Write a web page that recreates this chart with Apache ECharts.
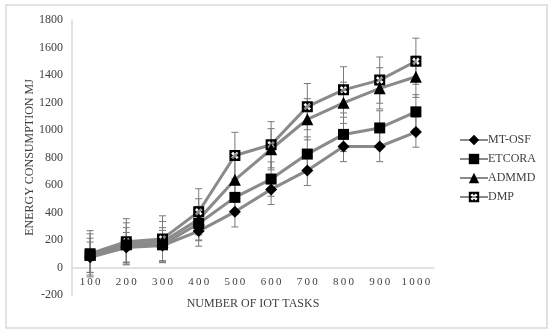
<!DOCTYPE html>
<html>
<head>
<meta charset="utf-8">
<script src="https://cdn.jsdelivr.net/npm/echarts@6/dist/echarts.min.js"></script>
<style>
  html, body { margin: 0; padding: 0; background: #fff; }
  #chart { width: 550px; height: 334px; }
</style>
</head>
<body>
<div id="chart"></div>
<script>
// categories and series values
const tasks = ['100', '200', '300', '400', '500', '600', '700', '800', '900', '1000'];
const mtOsf = [75, 145, 160, 265, 405, 568, 706, 880, 880, 985];
const etcora = [88, 165, 165, 320, 510, 643, 825, 968, 1015, 1132];
const admmd = [95, 175, 185, 350, 638, 860, 1078, 1198, 1303, 1387];
const dmp = [100, 187, 208, 405, 815, 893, 1170, 1292, 1363, 1500];
// error bar half-lengths (same for every point of a series)
const errMtOsf = 110;
const errEtcora = 125;
const errAdmmd = 150;
const errDmp = 168;

const serif = 'Liberation Serif';
const lineGray = '#8a8a8a';
const textCol = '#404040';

// black square with a white X cut out (outer clockwise, X counter-clockwise)
const boxX = 'path://M0,0L10,0L10,10L0,10Z' +
  'M3.3,5L1.6,6.7L3.3,8.4L5,6.7L6.7,8.4L8.4,6.7L6.7,5L8.4,3.3L6.7,1.6L5,3.3L3.3,1.6L1.6,3.3Z';

function lineSeries(name, data, symbol, size) {
  return {
    name: name,
    type: 'line',
    data: data,
    symbol: symbol,
    symbolSize: size,
    z: 3,
    lineStyle: { color: lineGray, width: 3 },
    itemStyle: { color: '#000', borderWidth: 0 }
  };
}

// error bars drawn through the axes' own scales
function errSeries(name, data, err) {
  return {
    name: name + '-err',
    type: 'custom',
    z: 2,
    silent: true,
    data: data.map((v, i) => [i, v]),
    renderItem: function (params, api) {
      const i = api.value(0);
      const v = api.value(1);
      const top = api.coord([i, v + err]);
      const bot = api.coord([i, v - err]);
      const h = 3.5;
      const st = { stroke: '#7a7a7a', lineWidth: 1 };
      return {
        type: 'group',
        children: [
          { type: 'line', shape: { x1: top[0], y1: top[1], x2: bot[0], y2: bot[1] }, style: st },
          { type: 'line', shape: { x1: top[0] - h, y1: top[1], x2: top[0] + h, y2: top[1] }, style: st },
          { type: 'line', shape: { x1: bot[0] - h, y1: bot[1], x2: bot[0] + h, y2: bot[1] }, style: st }
        ]
      };
    }
  };
}

const chart = echarts.init(document.getElementById('chart'));

chart.setOption({
  animation: false,
  backgroundColor: '#fff',
  grid: { left: 72, right: 116, top: 20, bottom: 39, outerBoundsMode: 'none' },
  graphic: [{
    type: 'rect',
    shape: { x: 6, y: 5, width: 541, height: 323 },
    style: { fill: 'none', stroke: '#d9d9d9', lineWidth: 1.5 },
    silent: true
  }],
  legend: {
    orient: 'vertical',
    left: 454,
    top: 129,
    itemWidth: 28,
    itemHeight: 13,
    itemGap: 7,
    data: ['MT-OSF', 'ETCORA', 'ADMMD', 'DMP'],
    textStyle: { fontFamily: serif, fontSize: 12, color: textCol, padding: [0, 0, 0, -5] }
  },
  xAxis: {
    type: 'category',
    data: tasks,
    // axis sits on the zero line: 275px plot height, 0 is 1/10 above the bottom
    offset: -27.5,
    name: 'NUMBER OF IOT TASKS',
    nameLocation: 'middle',
    nameGap: 30,
    nameMoveOverlap: false,
    nameTextStyle: { fontFamily: serif, fontSize: 12, color: textCol },
    axisLine: { onZero: false, lineStyle: { color: '#d9d9d9', width: 1.5 } },
    axisTick: { show: false },
    axisLabel: {
      interval: 0,
      fontFamily: serif,
      fontSize: 11,
      color: textCol,
      margin: 9,
      formatter: v => v.split('').join('\u2009')
    }
  },
  yAxis: {
    type: 'value',
    min: -200,
    max: 1800,
    interval: 200,
    name: 'ENERGY CONSUMPTION MJ',
    nameLocation: 'middle',
    nameGap: 36,
    nameMoveOverlap: false,
    nameTextStyle: { fontFamily: serif, fontSize: 12, color: textCol },
    axisLine: { show: true, lineStyle: { color: '#d9d9d9', width: 1.5 } },
    axisTick: { show: false },
    splitLine: { show: false },
    axisLabel: {
      fontFamily: serif,
      fontSize: 12,
      color: textCol,
      margin: 9,
      formatter: v => String(v)
    }
  },
  series: [
    errSeries('MT-OSF', mtOsf, errMtOsf),
    errSeries('ETCORA', etcora, errEtcora),
    errSeries('ADMMD', admmd, errAdmmd),
    errSeries('DMP', dmp, errDmp),
    lineSeries('MT-OSF', mtOsf, 'diamond', 12),
    lineSeries('ETCORA', etcora, 'rect', 11),
    lineSeries('ADMMD', admmd, 'triangle', 12),
    lineSeries('DMP', dmp, boxX, 11)
  ]
});
</script>
</body>
</html>
